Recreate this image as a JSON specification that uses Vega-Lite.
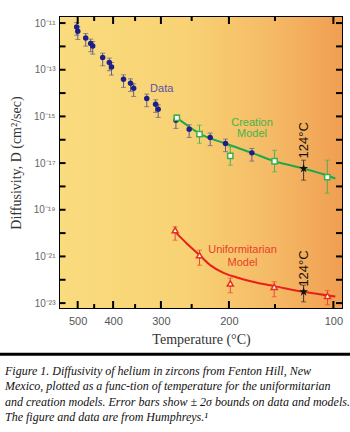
{
  "$schema": "https://vega.github.io/schema/vega-lite/v6.json",
  "width": 282,
  "height": 291,
  "autosize": {"type": "none"},
  "padding": {"left": 60, "top": 17, "right": 8, "bottom": 124},
  "background": "white",
  "view": {"stroke": "black", "strokeWidth": 2, "fill": null},
  "title": {
    "text": [
      "Figure 1. Diffusivity of helium in zircons from Fenton Hill, New",
      "Mexico, plotted as a func-tion of temperature for the uniformitarian",
      "and creation models. Error bars show ± 2σ bounds on data and models.",
      "The figure and data are from Humphreys.¹"
    ],
    "orient": "bottom",
    "anchor": "start",
    "frame": "group",
    "dx": -55,
    "offset": 10,
    "font": "Liberation Serif",
    "fontStyle": "italic",
    "fontWeight": "normal",
    "fontSize": 12,
    "lineHeight": 15.5,
    "color": "#111111",
    "baseline": "top",
    "align": "left"
  },
  "datasets": {
    "xMajor": [
      {"invT": 1.29341}, {"invT": 1.48555}, {"invT": 1.74475}, {"invT": 2.1135}, {"invT": 2.67989}
    ],
    "xMinor": [
      {"invT": 1.38284}, {"invT": 1.60475}, {"invT": 1.9115}, {"invT": 2.36323}
    ],
    "yTicks": [
      {"D": 1e-23}, {"D": 1e-22}, {"D": 1e-21}, {"D": 1e-20}, {"D": 1e-19},
      {"D": 1e-18}, {"D": 1e-17}, {"D": 1e-16}, {"D": 1e-15}, {"D": 1e-14},
      {"D": 1e-13}, {"D": 1e-12}, {"D": 1e-11}
    ],
    "measured": [
      {"invT": 1.288, "D": 6.8e-12, "lo": 3.0e-12, "hi": 1.05e-11},
      {"invT": 1.294, "D": 4.46e-12, "lo": 1.99e-12, "hi": 6.9e-12},
      {"invT": 1.337, "D": 2.3e-12, "lo": 1.03e-12, "hi": 3.56e-12},
      {"invT": 1.364, "D": 1.32e-12, "lo": 5.9e-13, "hi": 2.05e-12},
      {"invT": 1.375, "D": 1.045e-12, "lo": 4.67e-13, "hi": 1.62e-12},
      {"invT": 1.429, "D": 3.33e-13, "lo": 1.49e-13, "hi": 5.15e-13},
      {"invT": 1.465, "D": 2.03e-13, "lo": 9.1e-14, "hi": 3.15e-13},
      {"invT": 1.477, "D": 1.32e-13, "lo": 5.9e-14, "hi": 2.04e-13},
      {"invT": 1.542, "D": 3.92e-14, "lo": 1.75e-14, "hi": 6.07e-14},
      {"invT": 1.58, "D": 2.64e-14, "lo": 1.18e-14, "hi": 4.09e-14},
      {"invT": 1.597, "D": 1.61e-14, "lo": 7.2e-15, "hi": 2.5e-14},
      {"invT": 1.668, "D": 5.85e-15, "lo": 2.61e-15, "hi": 9.06e-15},
      {"invT": 1.716, "D": 3.33e-15, "lo": 1.49e-15, "hi": 5.15e-15},
      {"invT": 1.73, "D": 2.03e-15, "lo": 9.1e-16, "hi": 3.15e-15},
      {"invT": 1.826, "D": 6.87e-16, "lo": 3.07e-16, "hi": 1.06e-15},
      {"invT": 1.898, "D": 2.83e-16, "lo": 1.26e-16, "hi": 4.38e-16},
      {"invT": 2.012, "D": 1.25e-16, "lo": 5.6e-17, "hi": 1.94e-16},
      {"invT": 2.095, "D": 6.9e-17, "lo": 3.08e-17, "hi": 1.07e-16},
      {"invT": 2.238, "D": 2.74e-17, "lo": 1.22e-17, "hi": 4.24e-17}
    ],
    "creationPts": [
      {"invT": 1.831, "D": 8.63e-16, "lo": 6.4e-16, "hi": 1.16e-15},
      {"invT": 1.954, "D": 1.73e-16, "lo": 7.1e-17, "hi": 4.22e-16},
      {"invT": 2.121, "D": 2.03e-17, "lo": 8.1e-18, "hi": 4.95e-17},
      {"invT": 2.361, "D": 1.2e-17, "lo": 4.2e-18, "hi": 3.55e-17},
      {"invT": 2.647, "D": 2.49e-18, "lo": 5.15e-19, "hi": 1.34e-17}
    ],
    "creationCurve": [
      {"invT": 1.831, "D": 8.63e-16},
      {"invT": 1.894, "D": 3.8e-16},
      {"invT": 1.954, "D": 1.85e-16},
      {"invT": 2.095, "D": 6.9e-17},
      {"invT": 2.238, "D": 2.74e-17},
      {"invT": 2.361, "D": 1.2e-17},
      {"invT": 2.5185, "D": 5.87e-18},
      {"invT": 2.647, "D": 2.94e-18},
      {"invT": 2.6905, "D": 2.19e-18}
    ],
    "uniformPts": [
      {"invT": 1.822, "D": 1.34e-20, "lo": 4.97e-21, "hi": 1.85e-20},
      {"invT": 1.954, "D": 1.14e-21, "lo": 4.2e-22, "hi": 1.86e-21},
      {"invT": 2.121, "D": 6.98e-23, "lo": 2.78e-23, "hi": 1.18e-22},
      {"invT": 2.359, "D": 4.99e-23, "lo": 1.86e-23, "hi": 8.17e-23},
      {"invT": 2.648, "D": 2.06e-23, "lo": 8.5e-24, "hi": 3.45e-23}
    ],
    "uniformCurve": [
      {"invT": 1.822, "D": 1.13e-20},
      {"invT": 1.885, "D": 3.61e-21},
      {"invT": 1.954, "D": 1.14e-21},
      {"invT": 2.012, "D": 4.24e-22},
      {"invT": 2.084, "D": 1.99e-22},
      {"invT": 2.157, "D": 1.26e-22},
      {"invT": 2.266, "D": 7.4e-23},
      {"invT": 2.359, "D": 5.35e-23},
      {"invT": 2.5185, "D": 3.05e-23},
      {"invT": 2.6905, "D": 1.9e-23}
    ],
    "stars": [
      {"invT": 2.5185, "D": 5.87e-18, "lo": 1.86e-18, "hi": 1.33e-17},
      {"invT": 2.5185, "D": 3.05e-23, "lo": 1.13e-23, "hi": 5.9e-23}
    ],
    "labels": [
      {"invT": 1.7491, "D": 1.46e-14, "text": "Data", "group": "data"},
      {"invT": 2.2388, "D": 5.27e-16, "text": "Creation", "group": "creation"},
      {"invT": 2.2388, "D": 1.68e-16, "text": "Model", "group": "creation"},
      {"invT": 2.1873, "D": 1.86e-21, "text": "Uniformitarian", "group": "uniform"},
      {"invT": 2.1873, "D": 5.32e-22, "text": "Model", "group": "uniform"}
    ],
    "tempLabels": [
      {"invT": 2.5185, "D": 9.5e-17, "text": "124°C"},
      {"invT": 2.5185, "D": 3.05e-22, "text": "124°C"}
    ]
  },
  "resolve": {"axis": {"x": "independent", "y": "independent"}},
  "layer": [
    {
      "data": {"values": [{}]},
      "mark": {"type": "rect",
        "fill": {"gradient": "linear", "x1": 0, "y1": 0, "x2": 1, "y2": 0,
          "stops": [
            {"offset": 0, "color": "#F9DC7E"},
            {"offset": 0.45, "color": "#F8D274"},
            {"offset": 0.75, "color": "#F5BA66"},
            {"offset": 1, "color": "#F09E52"}
          ]}},
      "encoding": {
        "x": {"datum": 1.1976, "type": "quantitative", "scale": {"domain": [1.1976, 2.7266], "nice": false, "zero": false}, "axis": null},
        "x2": {"datum": 2.7266},
        "y": {"datum": 6.17e-24, "type": "quantitative", "scale": {"type": "log", "domain": [6.17e-24, 1.82e-11], "nice": false}, "axis": null},
        "y2": {"datum": 1.82e-11}
      }
    },
    {
      "data": {"name": "creationCurve"},
      "mark": {"type": "line", "color": "#1FA84A", "strokeWidth": 2, "interpolate": "monotone"},
      "encoding": {
        "x": {"field": "invT", "type": "quantitative",
          "scale": {"domain": [1.1976, 2.7266], "nice": false, "zero": false},
          "axis": {"orient": "bottom", "values": [1.29341, 1.48555, 1.74475, 2.1135, 2.67989],
            "labelExpr": "format(round(1000/datum.value-273.15),'d')",
            "ticks": false, "labelPadding": 7,
            "labelFont": "Liberation Sans", "labelFontSize": 11, "labelColor": "#555555",
            "domain": false, "grid": false,
            "title": "Temperature (°C)", "titleFont": "Liberation Serif", "titleFontSize": 14,
            "titleFontWeight": "normal", "titleColor": "#333333", "titlePadding": 6}},
        "y": {"field": "D", "type": "quantitative",
          "scale": {"type": "log", "domain": [6.17e-24, 1.82e-11], "nice": false},
          "axis": {"orient": "left",
            "values": [1e-23, 1e-21, 1e-19, 1e-17, 1e-15, 1e-13, 1e-11],
            "labelExpr": "['10⁻¹¹','','10⁻¹³','','10⁻¹⁵','','10⁻¹⁷','','10⁻¹⁹','','10⁻²¹','','10⁻²³'][round(-log(datum.value)/LN10)-11]",
            "ticks": false, "labelPadding": 5,
            "labelFont": "Liberation Sans", "labelFontSize": 10, "labelColor": "#666666",
            "domain": false, "grid": false,
            "title": "Diffusivity, D (cm²/sec)", "titleFont": "Liberation Serif", "titleFontSize": 14,
            "titleFontWeight": "normal", "titleColor": "#333333", "titlePadding": 10}}
      }
    },
    {
      "data": {"name": "uniformCurve"},
      "mark": {"type": "line", "color": "#E8201A", "strokeWidth": 2, "interpolate": "monotone"},
      "encoding": {
        "x": {"field": "invT", "type": "quantitative", "scale": {"domain": [1.1976, 2.7266], "nice": false, "zero": false}, "axis": null},
        "y": {"field": "D", "type": "quantitative", "scale": {"type": "log", "domain": [6.17e-24, 1.82e-11], "nice": false}, "axis": null}
      }
    },
    {
      "data": {"name": "measured"},
      "mark": {"type": "errorbar", "ticks": {"size": 5}, "thickness": 1, "color": "#5F5F85"},
      "encoding": {
        "x": {"field": "invT", "type": "quantitative", "scale": {"domain": [1.1976, 2.7266], "nice": false, "zero": false}, "axis": null},
        "y": {"field": "lo", "type": "quantitative", "scale": {"type": "log", "domain": [6.17e-24, 1.82e-11], "nice": false}, "axis": null},
        "y2": {"field": "hi"}
      }
    },
    {
      "data": {"name": "creationPts"},
      "mark": {"type": "errorbar", "ticks": {"size": 5}, "thickness": 1, "color": "#4CB050"},
      "encoding": {
        "x": {"field": "invT", "type": "quantitative", "scale": {"domain": [1.1976, 2.7266], "nice": false, "zero": false}, "axis": null},
        "y": {"field": "lo", "type": "quantitative", "scale": {"type": "log", "domain": [6.17e-24, 1.82e-11], "nice": false}, "axis": null},
        "y2": {"field": "hi"}
      }
    },
    {
      "data": {"name": "uniformPts"},
      "mark": {"type": "errorbar", "ticks": {"size": 5}, "thickness": 1, "color": "#EA4A30"},
      "encoding": {
        "x": {"field": "invT", "type": "quantitative", "scale": {"domain": [1.1976, 2.7266], "nice": false, "zero": false}, "axis": null},
        "y": {"field": "lo", "type": "quantitative", "scale": {"type": "log", "domain": [6.17e-24, 1.82e-11], "nice": false}, "axis": null},
        "y2": {"field": "hi"}
      }
    },
    {
      "data": {"name": "stars"},
      "mark": {"type": "errorbar", "ticks": {"size": 5}, "thickness": 1, "color": "#333333"},
      "encoding": {
        "x": {"field": "invT", "type": "quantitative", "scale": {"domain": [1.1976, 2.7266], "nice": false, "zero": false}, "axis": null},
        "y": {"field": "lo", "type": "quantitative", "scale": {"type": "log", "domain": [6.17e-24, 1.82e-11], "nice": false}, "axis": null},
        "y2": {"field": "hi"}
      }
    },
    {
      "data": {"name": "measured"},
      "mark": {"type": "point", "shape": "circle", "filled": true, "color": "#1C1F8A", "size": 30, "opacity": 1},
      "encoding": {
        "x": {"field": "invT", "type": "quantitative", "scale": {"domain": [1.1976, 2.7266], "nice": false, "zero": false}, "axis": null},
        "y": {"field": "D", "type": "quantitative", "scale": {"type": "log", "domain": [6.17e-24, 1.82e-11], "nice": false}, "axis": null}
      }
    },
    {
      "data": {"name": "creationPts"},
      "mark": {"type": "point", "shape": "square", "filled": true, "fill": "white", "stroke": "#3DB048", "strokeWidth": 1.5, "size": 28, "opacity": 1},
      "encoding": {
        "x": {"field": "invT", "type": "quantitative", "scale": {"domain": [1.1976, 2.7266], "nice": false, "zero": false}, "axis": null},
        "y": {"field": "D", "type": "quantitative", "scale": {"type": "log", "domain": [6.17e-24, 1.82e-11], "nice": false}, "axis": null}
      }
    },
    {
      "data": {"name": "uniformPts"},
      "mark": {"type": "point", "shape": "triangle-up", "filled": true, "fill": "white", "stroke": "#E8301E", "strokeWidth": 1.5, "size": 36, "opacity": 1},
      "encoding": {
        "x": {"field": "invT", "type": "quantitative", "scale": {"domain": [1.1976, 2.7266], "nice": false, "zero": false}, "axis": null},
        "y": {"field": "D", "type": "quantitative", "scale": {"type": "log", "domain": [6.17e-24, 1.82e-11], "nice": false}, "axis": null}
      }
    },
    {
      "data": {"name": "stars"},
      "mark": {"type": "point", "shape": "M0,-1L0.2245,-0.309L0.951,-0.309L0.363,0.118L0.588,0.809L0,0.382L-0.588,0.809L-0.363,0.118L-0.951,-0.309L-0.2245,-0.309Z", "filled": true, "color": "#111111", "size": 90, "opacity": 1},
      "encoding": {
        "x": {"field": "invT", "type": "quantitative", "scale": {"domain": [1.1976, 2.7266], "nice": false, "zero": false}, "axis": null},
        "y": {"field": "D", "type": "quantitative", "scale": {"type": "log", "domain": [6.17e-24, 1.82e-11], "nice": false}, "axis": null}
      }
    },
    {
      "data": {"name": "labels"},
      "mark": {"type": "text", "font": "Liberation Sans", "fontSize": 11, "align": "center", "baseline": "middle"},
      "encoding": {
        "x": {"field": "invT", "type": "quantitative", "scale": {"domain": [1.1976, 2.7266], "nice": false, "zero": false}, "axis": null},
        "y": {"field": "D", "type": "quantitative", "scale": {"type": "log", "domain": [6.17e-24, 1.82e-11], "nice": false}, "axis": null},
        "text": {"field": "text"},
        "color": {"field": "group", "type": "nominal", "scale": {"domain": ["data", "creation", "uniform"], "range": ["#5E4FA6", "#45B449", "#E8402A"]}, "legend": null}
      }
    },
    {
      "data": {"name": "tempLabels"},
      "mark": {"type": "text", "font": "Liberation Sans", "fontSize": 13, "align": "center", "baseline": "middle", "angle": 270, "color": "#111111"},
      "encoding": {
        "x": {"field": "invT", "type": "quantitative", "scale": {"domain": [1.1976, 2.7266], "nice": false, "zero": false}, "axis": null},
        "y": {"field": "D", "type": "quantitative", "scale": {"type": "log", "domain": [6.17e-24, 1.82e-11], "nice": false}, "axis": null},
        "text": {"field": "text"}
      }
    },
    {
      "data": {"name": "xMajor"},
      "mark": {"type": "rule", "color": "black", "strokeWidth": 2},
      "encoding": {
        "x": {"field": "invT", "type": "quantitative", "scale": {"domain": [1.1976, 2.7266], "nice": false, "zero": false}, "axis": null},
        "y": {"datum": 6.17e-24, "type": "quantitative", "scale": {"type": "log", "domain": [6.17e-24, 1.82e-11], "nice": false}, "axis": null},
        "y2": {"datum": 1.23e-23}
      }
    },
    {
      "data": {"name": "xMinor"},
      "mark": {"type": "rule", "color": "black", "strokeWidth": 2},
      "encoding": {
        "x": {"field": "invT", "type": "quantitative", "scale": {"domain": [1.1976, 2.7266], "nice": false, "zero": false}, "axis": null},
        "y": {"datum": 6.17e-24, "type": "quantitative", "scale": {"type": "log", "domain": [6.17e-24, 1.82e-11], "nice": false}, "axis": null},
        "y2": {"datum": 9.1e-24}
      }
    },
    {
      "data": {"name": "xMajor"},
      "mark": {"type": "rule", "color": "black", "strokeWidth": 2},
      "encoding": {
        "x": {"field": "invT", "type": "quantitative", "scale": {"domain": [1.1976, 2.7266], "nice": false, "zero": false}, "axis": null},
        "y": {"datum": 1.82e-11, "type": "quantitative", "scale": {"type": "log", "domain": [6.17e-24, 1.82e-11], "nice": false}, "axis": null},
        "y2": {"datum": 9.12e-12}
      }
    },
    {
      "data": {"name": "xMinor"},
      "mark": {"type": "rule", "color": "black", "strokeWidth": 2},
      "encoding": {
        "x": {"field": "invT", "type": "quantitative", "scale": {"domain": [1.1976, 2.7266], "nice": false, "zero": false}, "axis": null},
        "y": {"datum": 1.82e-11, "type": "quantitative", "scale": {"type": "log", "domain": [6.17e-24, 1.82e-11], "nice": false}, "axis": null},
        "y2": {"datum": 1.23e-11}
      }
    },
    {
      "data": {"name": "yTicks"},
      "mark": {"type": "rule", "color": "black", "strokeWidth": 2},
      "encoding": {
        "x": {"datum": 1.1976, "type": "quantitative", "scale": {"domain": [1.1976, 2.7266], "nice": false, "zero": false}, "axis": null},
        "x2": {"datum": 1.2276},
        "y": {"field": "D", "type": "quantitative", "scale": {"type": "log", "domain": [6.17e-24, 1.82e-11], "nice": false}, "axis": null}
      }
    },
    {
      "data": {"name": "yTicks"},
      "mark": {"type": "rule", "color": "black", "strokeWidth": 2},
      "encoding": {
        "x": {"datum": 2.7266, "type": "quantitative", "scale": {"domain": [1.1976, 2.7266], "nice": false, "zero": false}, "axis": null},
        "x2": {"datum": 2.6941},
        "y": {"field": "D", "type": "quantitative", "scale": {"type": "log", "domain": [6.17e-24, 1.82e-11], "nice": false}, "axis": null}
      }
    },
    {
      "data": {"values": [{}]},
      "mark": {"type": "rule", "color": "black", "strokeWidth": 3, "clip": false},
      "encoding": {
        "x": {"datum": 0.86, "type": "quantitative", "scale": {"domain": [1.1976, 2.7266], "nice": false, "zero": false}, "axis": null},
        "x2": {"datum": 2.79},
        "y": {"datum": 6.5e-26, "type": "quantitative", "scale": {"type": "log", "domain": [6.17e-24, 1.82e-11], "nice": false}, "axis": null}
      }
    }
  ]
}
